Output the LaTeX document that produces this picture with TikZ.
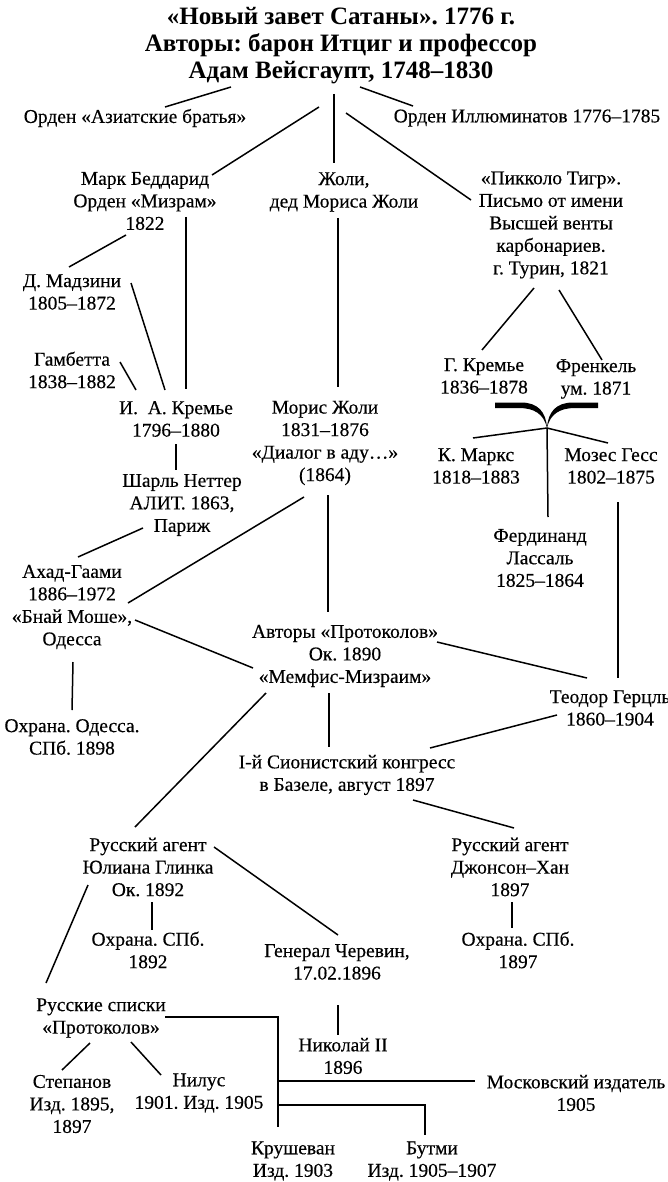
\documentclass[tikz,border=0pt]{standalone}
\usepackage{fontspec}
\setmainfont{Liberation Serif}[FakeBold=0.35]
\newfontfamily\titlefont{Liberation Serif Bold}
\frenchspacing
\usetikzlibrary{positioning}

\begin{document}
\begin{tikzpicture}[x=1pt,y=-1pt,on grid,
    txt/.style={align=center,inner sep=0pt,font=\fontsize{19.5}{22.5}\selectfont},
    ttl/.style={align=center,inner sep=0pt,font=\fontsize{25}{27}\titlefont},
    link/.style={line width=1.5pt}]
  \useasboundingbox (0,0) rectangle (668,1182);

  \node[ttl] (title) at (341,46) {«Новый завет Сатаны». 1776 г.\\Авторы: барон Итциг и профессор\\Адам Вейсгаупт, 1748–1830};
  \node[txt] (az)  at (135,118) {Орден «Азиатские братья»};
  \node[txt] (ill) at (527,118) {Орден Иллюминатов 1776–1785};
  \node[txt] (bed)  at (145,201) {Марк Беддарид\\Орден «Мизрам»\\1822};
  \node[txt] (joli) at (344,192) {Жоли,\\дед Мориса Жоли};
  \node[txt] (pik)  at (551,225) {«Пикколо Тигр».\\Письмо от имени\\Высшей венты\\карбонариев.\\г. Турин, 1821};
  \node[txt] (madz) at (72,292) {Д. Мадзини\\1805–1872};
  \node[txt] (gamb) at (72,370) {Гамбетта\\1838–1882};
  \node[txt] (krem) at (176,419) {И.\ \ А. Кремье\\1796–1880};
  \node[txt] (netter) at (182,505) {Шарль Неттер\\АЛИТ. 1863,\\Париж};
  \node[txt] (moris) at (325,443) {Морис Жоли\\1831–1876\\«Диалог в аду…»\\(1864)};
  \node[txt] (gkrem) at (484,376) {Г. Кремье\\1836–1878};
  \node[txt] (frenk) [right=112pt of gkrem,yshift=-3pt] {Френкель\\ум. 1871};
  \node[txt] (marx) at (476,466) {К. Маркс\\1818–1883};
  \node[txt] (hess) [right=135pt of marx] {Мозес Гесс\\1802–1875};
  \node[txt] (lass) at (540,558) {Фердинанд\\Лассаль\\1825–1864};
  \node[txt] (ahad) at (72,607) {Ахад-Гаами\\1886–1972\\«Бнай Моше»,\\Одесса};
  \node[txt] (ohod) [below=130pt of ahad] {Охрана. Одесса.\\СПб. 1898};
  \node[txt] (avt) at (345,656) {Авторы «Протоколов»\\Ок. 1890\\«Мемфис-Мизраим»};
  \node[txt] (herzl) at (610,708) {Теодор Герцль\\1860–1904};
  \node[txt] (sion) at (347,775) {I-й Сионистский конгресс\\в Базеле, август 1897};
  \node[txt] (glinka) at (148,867) {Русский агент\\Юлиана Глинка\\Ок. 1892};
  \node[txt] (john) at (510,867) {Русский агент\\Джонсон–Хан\\1897};
  \node[txt] (ohspb1) [below=83pt of glinka] {Охрана. СПб.\\1892};
  \node[txt] (cherev) at (337,962) {Генерал Черевин,\\17.02.1896};
  \node[txt] (ohspb2) at (518,950) {Охрана. СПб.\\1897};
  \node[txt] (nik) at (343,1056) {Николай II\\1896};
  \node[txt] (rspis) at (101,1018) {Русские списки\\«Протоколов»};
  \node[txt] (step) at (72,1104) {Степанов\\Изд. 1895,\\1897};
  \node[txt] (nilus) at (199,1093) {Нилус\\1901. Изд. 1905};
  \node[txt] (mosk) at (576,1093) {Московский издатель\\1905};
  \node[txt] (krush) at (293,1161) {Крушеван\\Изд. 1903};
  \node[txt] (butmi) [right=139pt of krush] {Бутми\\Изд. 1905–1907};

  % junctions
  \coordinate (tip) at (547,428);
  \coordinate (j2) at (278,1081);
  \coordinate (j3) at (278,1105);

  % brace under Kremje / Frenkel
  \begin{scope}[shift={(tip)}]
    \fill (-52,-25.5) -- (-26,-25.5) .. controls (-9,-25.5) and (-1,-16) .. (0,0)
      .. controls (1,-16) and (9,-25.5) .. (26,-25.5) -- (51,-25.5) -- (51,-20)
      -- (28,-20) .. controls (13,-20) and (3,-14) .. (0,0)
      .. controls (-3,-14) and (-13,-20) .. (-28,-20) -- (-52,-20) -- cycle;
  \end{scope}

  \path[link]
    ([shift={(-110,41)}]title.center) edge ([shift={(30,-11)}]az.center)
    ([shift={(19,41)}]title.center) edge ([shift={(-114,-12)}]ill.center)
    ([shift={(-7,48)}]title.center) edge ([shift={(-10,-29)}]joli.center)
    ([shift={(-22,61)}]title.center) edge ([shift={(67,-26)}]bed.center)
    ([shift={(5,67)}]title.center) edge ([shift={(-80,-25)}]pik.center)
    ([shift={(41,16)}]bed.center) edge ([shift={(10,-30)}]krem.center)
    ([shift={(-19,34)}]bed.center) edge ([shift={(-3,-25)}]madz.center)
    ([shift={(59,-9)}]madz.center) edge ([shift={(-11,-29)}]krem.center)
    ([shift={(48,-8)}]gamb.center) edge ([shift={(-40,-29)}]krem.center)
    ([shift={(-6,26)}]joli.center) edge ([shift={(13,-56)}]moris.center)
    ([shift={(0,25)}]krem.center) edge ([shift={(-6,-35)}]netter.center)
    ([shift={(-39,23)}]netter.center) edge ([shift={(6,-50)}]ahad.center)
    ([shift={(-21,54)}]moris.center) edge ([shift={(56,-4)}]ahad.center)
    ([shift={(3,52)}]moris.center) edge ([shift={(-17,-44)}]avt.center)
    ([shift={(-17,63)}]pik.center) edge ([shift={(-2,-26)}]gkrem.center)
    ([shift={(8,65)}]pik.center) edge ([shift={(6,-19)}]frenk.center)
    (tip) edge ([shift={(-3,-28)}]marx.center)
    (tip) edge ([shift={(-3,-23)}]hess.center)
    (tip) edge ([shift={(8,-41)}]lass.center)
    ([shift={(7,36)}]hess.center) edge ([shift={(8,-30)}]herzl.center)
    ([shift={(63,13)}]ahad.center) edge ([shift={(-92,12)}]avt.center)
    ([shift={(1,55)}]ahad.center) edge ([shift={(0,-27)}]ohod.center)
    ([shift={(92,-14)}]avt.center) edge ([shift={(-23,-30)}]herzl.center)
    ([shift={(-53,7)}]herzl.center) edge ([shift={(83,-27)}]sion.center)
    ([shift={(-16,37)}]avt.center) edge ([shift={(-18,-28)}]sion.center)
    ([shift={(66,25)}]sion.center) edge ([shift={(4,-39)}]john.center)
    ([shift={(-79,37)}]avt.center) edge ([shift={(-13,-40)}]glinka.center)
    ([shift={(66,-20)}]glinka.center) edge ([shift={(1,-27)}]cherev.center)
    ([shift={(-60,18)}]glinka.center) edge ([shift={(-55,-35)}]rspis.center)
    ([shift={(4,35)}]glinka.center) edge ([shift={(4,-20)}]ohspb1.center)
    ([shift={(1,43)}]cherev.center) edge ([shift={(-5,-21)}]nik.center)
    ([shift={(2,35)}]john.center) edge ([shift={(-6,-22)}]ohspb2.center)
    ([shift={(-11,25)}]rspis.center) edge ([shift={(-10,-34)}]step.center)
    ([shift={(30,24)}]rspis.center) edge ([shift={(-38,-18)}]nilus.center)
    ([shift={(64,-1)}]rspis.center) edge[to path={-| (\tikztotarget)}] ([shift={(-15,-34)}]krush.center)
    (j2) edge ([shift={(-101,-12)}]mosk.center)
    (j3) edge[to path={-| (\tikztotarget)}] ([shift={(-7,-26)}]butmi.center);
\end{tikzpicture}
\end{document}
